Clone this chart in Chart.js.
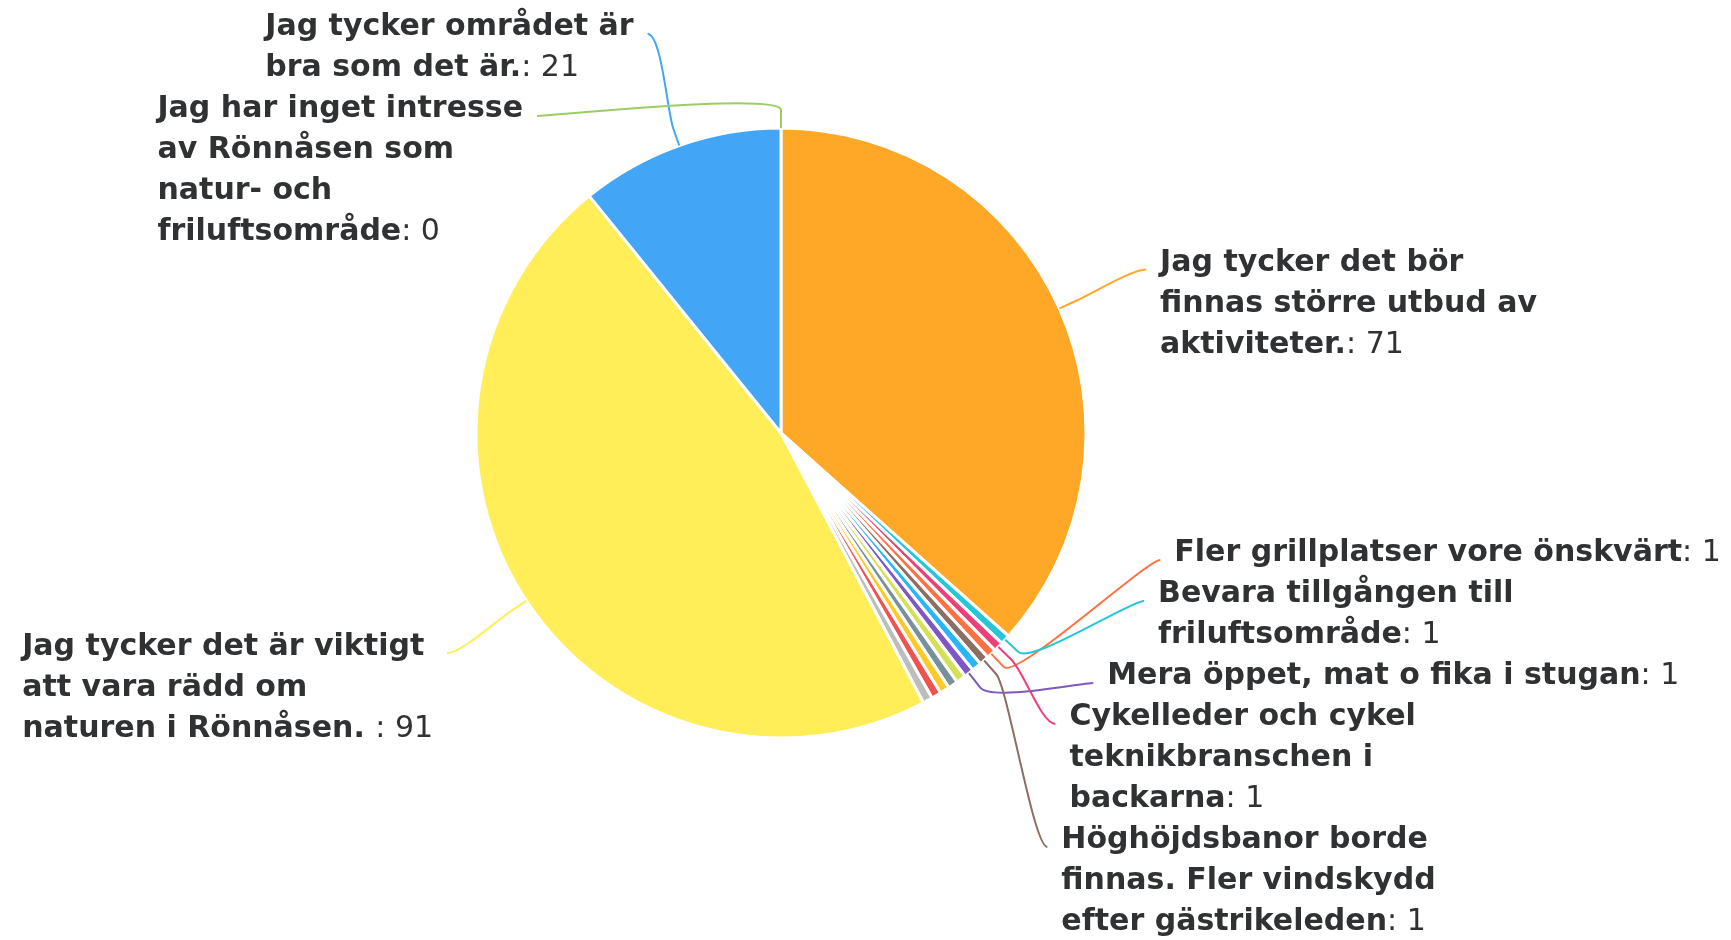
<!DOCTYPE html>
<html>
<head>
<meta charset="utf-8">
<script src="https://cdn.jsdelivr.net/npm/chart.js@4"></script>
<style>
  html, body { margin: 0; padding: 0; background: #fff; }
  canvas { display: block; }
</style>
</head>
<body>
<canvas id="cnvs_pie" width="1731" height="940"></canvas>
<script>
// answers, one line per row of the label as it was wrapped in the original.
// the labels of six of the single answers were hidden in the original, so their text is unknown
const categories = [
  ['Jag tycker det bör', 'finnas större utbud av', 'aktiviteter.'],
  ['Bevara tillgången till', 'friluftsområde'],
  ['Cykelleder och cykel', 'teknikbranschen i', 'backarna'],
  ['Fler grillplatser vore önskvärt'],
  ['Höghöjdsbanor borde', 'finnas. Fler vindskydd', 'efter gästrikeleden'],
  [],
  ['Mera öppet, mat o fika i stugan'],
  [], [], [], [], [],
  ['Jag tycker det är viktigt', 'att vara rädd om', 'naturen i Rönnåsen. '],
  ['Jag tycker området är', 'bra som det är.'],
  ['Jag har inget intresse', 'av Rönnåsen som', 'natur- och', 'friluftsområde']
];

const answers = [71, 1, 1, 1, 1, 1, 1, 1, 1, 1, 1, 1, 91, 21, 0];

const colors = [
  '#FFA726', '#26C6DA', '#EC407A', '#FF7043', '#8D6E63', '#29B6F6', '#7E57C2',
  '#D4E157', '#78909C', '#FFCA28', '#EF5350', '#BDBDBD', '#FFEE58', '#42A5F5', '#9CCC65'
];

// push overlapping label boxes apart, clusters centred on their targets
function distribute(boxes, minY, maxY) {
  let groups = boxes.map(b => ({items: [b], size: b.size}));
  let overlapping = true;
  while (overlapping) {
    groups.forEach(g => {
      const centers = g.items.map(b => b.target + b.size / 2);
      const c = (Math.min(...centers) + Math.max(...centers)) / 2;
      g.pos = Math.min(Math.max(c - g.size / 2, minY), maxY - g.size);
    });
    overlapping = false;
    for (let k = 1; k < groups.length; k++) {
      const prev = groups[k - 1], g = groups[k];
      if (prev.pos + prev.size > g.pos) {
        prev.items = prev.items.concat(g.items);
        prev.size += g.size;
        groups.splice(k, 1);
        overlapping = true;
        break;
      }
    }
  }
  groups.forEach(g => {
    let y = g.pos;
    g.items.forEach(b => { b.pos = y; y += b.size; });
  });
}

const outsideLabels = {
  id: 'outsideLabels',
  afterDatasetsDraw(chart, args, opts) {
    const ctx = chart.ctx;
    const meta = chart.getDatasetMeta(0);
    const values = chart.data.datasets[0].data;
    const sides = [[], []]; // right, left

    meta.data.forEach((arc, i) => {
      const lines = chart.data.labels[i];
      if (!lines || !lines.length) return;
      const mid = (arc.startAngle + arc.endAngle) / 2;
      const R = arc.outerRadius + opts.distance;
      const naturalY = arc.y + Math.sin(mid) * R;
      const h = lines.length * opts.lineHeight;
      const half = (mid + Math.PI / 2) > Math.PI ? 1 : 0;
      sides[half].push({
        i, arc, lines, R, naturalY,
        cos: Math.cos(mid), sin: Math.sin(mid),
        target: naturalY - opts.anchorOffset, size: h
      });
    });

    const minY = opts.top, maxY = chart.height + opts.bottomOverflow;
    ctx.save();
    sides.forEach((boxes, half) => {
      boxes.sort((a, b) => (a.target + a.size) - (b.target + b.size));
      distribute(boxes, minY, maxY);
      const dir = half ? -1 : 1;

      boxes.forEach(b => {
        const arc = b.arc, r = arc.outerRadius;
        const anchorY = b.pos + opts.anchorOffset;
        const atEdge = b.pos <= minY + 0.5 || b.pos + b.size >= maxY - 0.5;
        const yForX = atEdge ? b.naturalY : anchorY;
        const s = Math.max(-1, Math.min(1, (yForX - arc.y) / b.R));
        const anchorX = arc.x + dir * Math.cos(Math.asin(s)) * b.R;

        // connector
        const touch = {x: arc.x + b.cos * r, y: arc.y + b.sin * r};
        const brk = {x: arc.x + b.cos * (r + opts.breakOffset), y: arc.y + b.sin * (r + opts.breakOffset)};
        ctx.beginPath();
        ctx.moveTo(anchorX, anchorY);
        ctx.bezierCurveTo(anchorX - dir * opts.softness, anchorY,
          2 * brk.x - touch.x, 2 * brk.y - touch.y, brk.x, brk.y);
        ctx.lineTo(touch.x, touch.y);
        ctx.strokeStyle = colors[b.i];
        ctx.lineWidth = 2;
        ctx.stroke();

        // text
        const bold = 'bold ' + opts.fontSize + 'px "DejaVu Sans"';
        const normal = opts.fontSize + 'px "DejaVu Sans"';
        const suffix = ': ' + values[b.i];
        const widths = b.lines.map((ln, k) => {
          ctx.font = bold;
          let w = ctx.measureText(ln).width;
          if (k === b.lines.length - 1) {
            ctx.font = normal;
            w += ctx.measureText(suffix).width;
          }
          return w;
        });
        const boxW = Math.max(...widths);
        const textX = half ? anchorX - opts.padding - boxW : anchorX + opts.padding;
        ctx.fillStyle = '#2f3133';
        ctx.textBaseline = 'middle';
        ctx.textAlign = 'left';
        b.lines.forEach((ln, k) => {
          const y = b.pos + opts.lineHeight / 2 + k * opts.lineHeight;
          ctx.font = bold;
          ctx.fillText(ln, textX, y);
          if (k === b.lines.length - 1) {
            const w = ctx.measureText(ln).width;
            ctx.font = normal;
            ctx.fillText(suffix, textX + w, y);
          }
        });
      });
    });
    ctx.restore();
  }
};

const ctx = document.getElementById('cnvs_pie').getContext('2d');
new Chart(ctx, {
  type: 'pie',
  data: {
    labels: categories,
    datasets: [{
      data: answers,
      backgroundColor: colors,
      borderColor: '#ffffff',
      borderWidth: 3,
      radius: 305
    }]
  },
  options: {
    responsive: false,
    animation: false,
    layout: { padding: { left: 400, right: 569, top: 100, bottom: 174 } },
    plugins: {
      legend: { display: false },
      tooltip: { enabled: false },
      outsideLabels: {
        distance: 95,
        lineHeight: 41,
        anchorOffset: 27,
        top: 7,
        bottomOverflow: 3,
        padding: 14,
        breakOffset: 18,
        softness: 14,
        fontSize: 30
      }
    }
  },
  plugins: [outsideLabels]
});
</script>
</body>
</html>
